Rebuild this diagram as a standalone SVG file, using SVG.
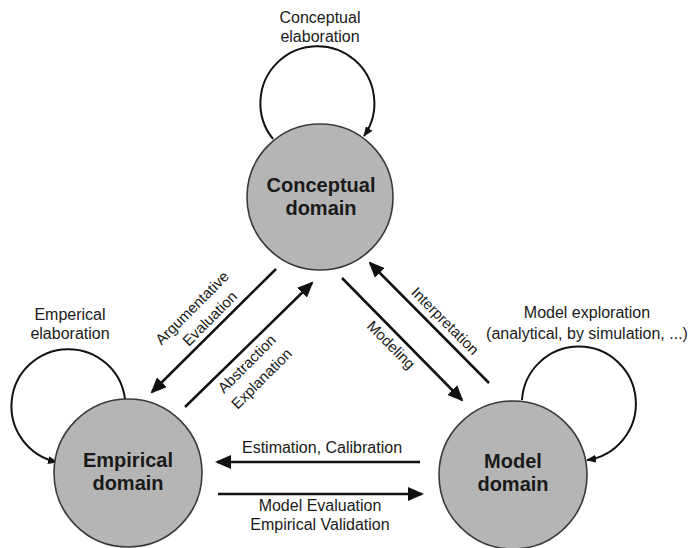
<svg xmlns="http://www.w3.org/2000/svg" width="699" height="548" viewBox="0 0 699 548">
  <style>
    text { font-family: "Liberation Sans", Arial, sans-serif; fill: #1a1a1a; text-anchor: middle; }
    .node { fill: #b5b5b5; stroke: #3a3a3a; stroke-width: 1.6; }
    .name { font-size: 20px; font-weight: bold; }
    .lbl { font-size: 16px; }
    .rlbl { font-size: 15px; }
    .edge { fill: none; stroke: #111; stroke-width: 2.5; }
    .loop { fill: none; stroke: #111; stroke-width: 2; }
  </style>
  <defs>
    <marker id="head" markerUnits="userSpaceOnUse" viewBox="0 0 16 14" markerWidth="16" markerHeight="14" refX="14" refY="7" orient="auto">
      <path d="M0 0 L16 7 L0 14 z" fill="#111"/>
    </marker>
    <marker id="headSmall" markerUnits="userSpaceOnUse" viewBox="0 0 10 8" markerWidth="10" markerHeight="8" refX="9" refY="4" orient="auto">
      <path d="M0 0 L10 4 L0 8 z" fill="#111"/>
    </marker>
  </defs>

  <!-- connectors -->
  <g id="connectors">
    <path class="loop" d="M273 139 A57 57 0 1 1 364 136" marker-end="url(#headSmall)"/>
    <path class="loop" d="M125 399 A57 57 0 1 0 57 462" marker-end="url(#headSmall)"/>
    <path class="loop" d="M522 400 A57 57 0 1 1 587 460" marker-end="url(#headSmall)"/>

    <path class="edge" d="M276 269 L152 392" marker-end="url(#head)"/>
    <path class="edge" d="M185 407 L312 283" marker-end="url(#head)"/>
    <path class="edge" d="M342 278 L462 400" marker-end="url(#head)"/>
    <path class="edge" d="M489 383 L370 263" marker-end="url(#head)"/>
    <path class="edge" d="M420 462 L217 462" marker-end="url(#head)"/>
    <path class="edge" d="M218 494 L422 494" marker-end="url(#head)"/>

    <text class="lbl" x="320" y="23">Conceptual</text>
    <text class="lbl" x="320" y="42">elaboration</text>
    <text class="lbl" x="70" y="320">Emperical</text>
    <text class="lbl" x="70" y="339">elaboration</text>
    <text class="lbl" x="587" y="318">Model exploration</text>
    <text class="lbl" x="587" y="339">(analytical, by simulation, ...)</text>
    <text class="lbl" x="322" y="453">Estimation, Calibration</text>
    <text class="lbl" x="320" y="511">Model Evaluation</text>
    <text class="lbl" x="320" y="530">Empirical Validation</text>

    <g transform="translate(200 313) rotate(-45)">
      <text class="rlbl" x="-2" y="-4">Argumentative</text>
      <text class="rlbl" x="3" y="16">Evaluation</text>
    </g>
    <g transform="translate(254 371) rotate(-45)">
      <text class="rlbl" x="0" y="-5">Abstraction</text>
      <text class="rlbl" x="0" y="16">Explanation</text>
    </g>
    <g transform="translate(391 345) rotate(45)">
      <text class="rlbl" x="0" y="5">Modeling</text>
    </g>
    <g transform="translate(445 321) rotate(45)">
      <text class="rlbl" x="0" y="5">Interpretation</text>
    </g>
  </g>

  <g id="conceptual">
    <circle class="node" cx="320" cy="197" r="73"/>
    <text class="name" x="321" y="192">Conceptual</text>
    <text class="name" x="321" y="215">domain</text>
  </g>

  <g id="empirical">
    <circle class="node" cx="128" cy="473" r="74"/>
    <text class="name" x="128" y="467">Empirical</text>
    <text class="name" x="128" y="490">domain</text>
  </g>

  <g id="model">
    <circle class="node" cx="513" cy="475" r="74"/>
    <text class="name" x="513" y="468">Model</text>
    <text class="name" x="513" y="491">domain</text>
  </g>
</svg>
